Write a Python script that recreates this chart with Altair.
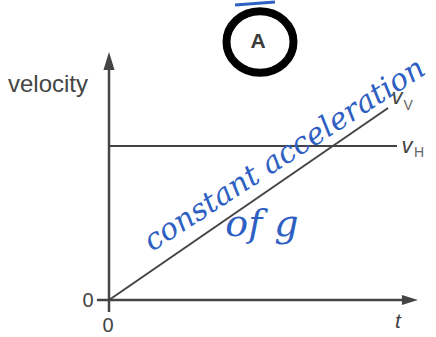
import altair as alt
import pandas as pd

# Horizontal component: constant velocity v_H
t_h = [0.0, 10.0]
v_h = [5.13, 5.13]

# Vertical component: grows linearly from zero (constant acceleration)
t_v = [0.0, 9.69]
v_v = [0.0, 6.4]

# Axis line extents (data units)
x_axis_t = [-0.42, 10.3]
y_axis_v = [-0.4, 7.7]

# Arrow heads at the end of each axis
arrow_x = {"t": [10.45], "v": [0.0]}
arrow_y = {"t": [0.0], "v": [7.97]}

INK = "#444444"
PEN = "#2e5fc2"

xs = alt.Scale(domain=[-3.785, 11.354], nice=False, zero=False)
ys = alt.Scale(domain=[-1.2333, 10.0], nice=False, zero=False)


def enc(chart):
    return chart.encode(
        x=alt.X("t:Q", scale=xs, axis=None),
        y=alt.Y("v:Q", scale=ys, axis=None),
    )


df_h = pd.DataFrame({"t": t_h, "v": v_h})
df_v = pd.DataFrame({"t": t_v, "v": v_v})
df_xaxis = pd.DataFrame({"t": x_axis_t, "v": [0.0, 0.0]})
df_yaxis = pd.DataFrame({"t": [0.0, 0.0], "v": y_axis_v})
df_origin = pd.DataFrame({"t": [0.0], "v": [0.0]})
df_h_end = df_h.tail(1)
df_v_end = df_v.tail(1)

x_axis = enc(alt.Chart(df_xaxis).mark_line(color=INK, strokeWidth=2.5))
y_axis = enc(alt.Chart(df_yaxis).mark_line(color=INK, strokeWidth=2.5))
x_head = enc(alt.Chart(pd.DataFrame(arrow_x)).mark_point(
    shape="M-1,-0.62L1,0L-1,0.62Z", size=256, filled=True, color=INK, opacity=1))
y_head = enc(alt.Chart(pd.DataFrame(arrow_y)).mark_point(
    shape="M-0.62,1L0,-1L0.62,1Z", size=324, filled=True, color=INK, opacity=1))

line_h = enc(alt.Chart(df_h).mark_line(color=INK, strokeWidth=2))
line_v = enc(alt.Chart(df_v).mark_line(color=INK, strokeWidth=2))

label_font = "Liberation Sans"
zero_left = enc(alt.Chart(df_origin).mark_text(
    text="0", font=label_font, fontSize=20, color=INK, dx=-21, dy=1))
zero_below = enc(alt.Chart(df_origin).mark_text(
    text="0", font=label_font, fontSize=20, color=INK, dx=-1, dy=26))
t_label = alt.Chart(df_origin).mark_text(
    text="t", font=label_font, fontSize=21, fontStyle="italic", color=INK
).encode(x=alt.value(398), y=alt.value(322))
velocity = alt.Chart(df_origin).mark_text(
    text="velocity", font=label_font, fontSize=24, color=INK, align="left",
    baseline="alphabetic"
).encode(x=alt.value(8), y=alt.value(92))

vv_main = enc(alt.Chart(df_v_end).mark_text(
    text="v", font=label_font, fontSize=22, fontStyle="italic", color=INK, dx=9, dy=-11))
vv_sub = enc(alt.Chart(df_v_end).mark_text(
    text="V", font=label_font, fontSize=14, color="#666666", dx=20, dy=-2))
vh_main = enc(alt.Chart(df_h_end).mark_text(
    text="v", font=label_font, fontSize=22, fontStyle="italic", color=INK, dx=10, dy=0))
vh_sub = enc(alt.Chart(df_h_end).mark_text(
    text="H", font=label_font, fontSize=14, color="#666666", dx=22, dy=7))

# Pen annotations
ring = alt.Chart(df_origin).mark_point(
    shape="M-1,0A1,0.92 0 1,0 1,0A1,0.92 0 1,0 -1,0Z",
    size=4489, filled=False, color="black", strokeWidth=8, opacity=1
).encode(x=alt.value(260), y=alt.value(42))
ring_letter = alt.Chart(df_origin).mark_text(
    text="A", font=label_font, fontSize=21, fontWeight="bold", color="#3a3a3a"
).encode(x=alt.value(258), y=alt.value(42))
dash = alt.Chart(df_origin).mark_rule(color=PEN, strokeWidth=3).encode(
    x=alt.value(235), x2=alt.value(275), y=alt.value(5), y2=alt.value(2))
note1 = alt.Chart(df_origin).mark_text(
    text="constant acceleration", font="DejaVu Serif", fontStyle="italic",
    fontSize=30, color=PEN, align="left", baseline="alphabetic", angle=327
).encode(x=alt.value(152), y=alt.value(252))
note2 = alt.Chart(df_origin).mark_text(
    text="of g", font="DejaVu Serif", fontStyle="italic",
    fontSize=38, color=PEN, align="center", baseline="alphabetic"
).encode(x=alt.value(262), y=alt.value(236))

chart = alt.layer(
    x_axis, y_axis, x_head, y_head, line_h, line_v,
    zero_left, zero_below, t_label, velocity,
    vv_main, vv_sub, vh_main, vh_sub,
    ring, ring_letter, dash, note1, note2,
).properties(
    width=436, height=337, autosize=alt.AutoSizeParams(type="none"), padding=0,
    background="white",
).configure_view(stroke=None)

chart.save("out.html", embed_options={"renderer": "svg", "actions": False})
